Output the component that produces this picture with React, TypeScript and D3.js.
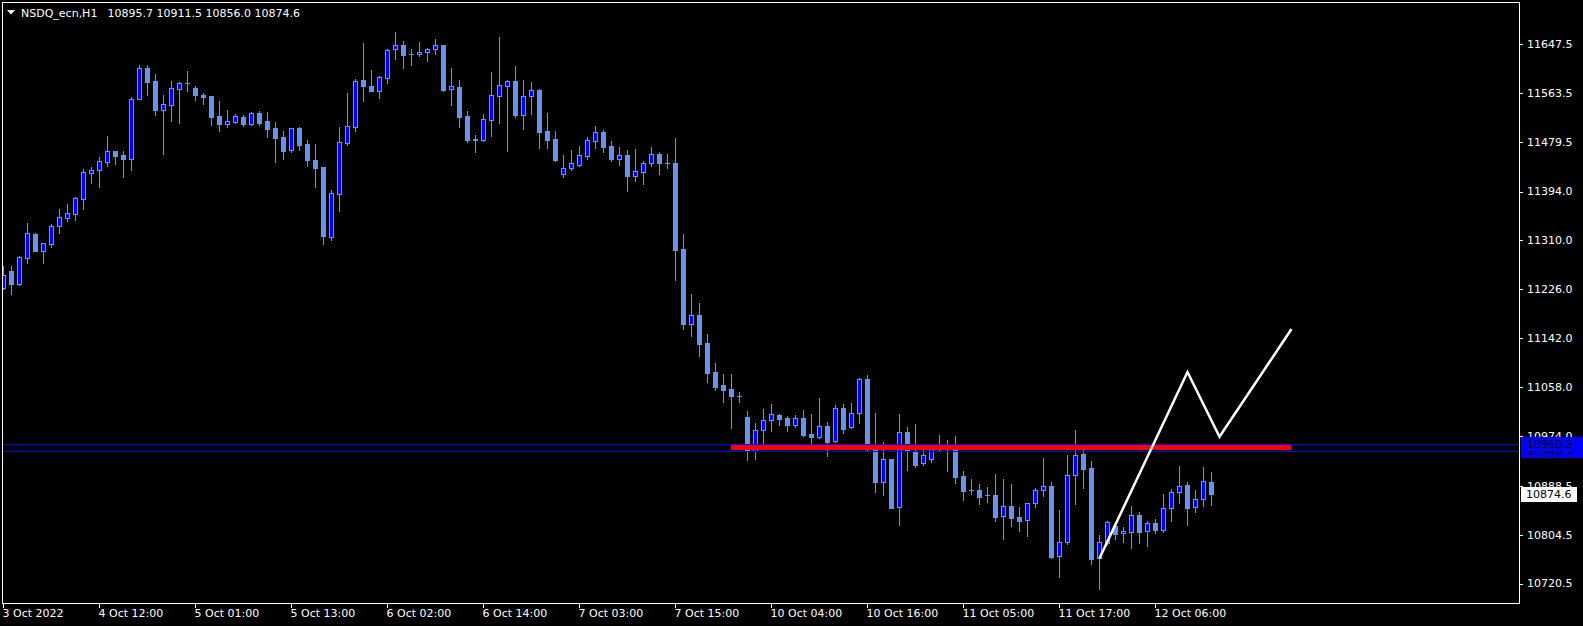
import React from 'react';
import * as d3 from 'd3';

const W = 1583;
const H = 626;

// OHLC hourly bars, NSDQ_ecn H1 (3 Oct 2022 – 12 Oct 2022)
const opens = [
  11228.8, 11257.5, 11235.1, 11280.4, 11321.0, 11292.4, 11304.4, 11335.4, 11349.1, 11356.0,
  11381.8, 11425.3, 11430.4, 11445.3, 11463.1, 11456.2, 11450.5, 11553.6, 11606.3, 11583.9,
  11534.7, 11543.3, 11570.8, 11579.9, 11571.3, 11559.9, 11558.2, 11523.8, 11510.6, 11514.1,
  11521.5, 11509.5, 11528.9, 11515.2, 11503.2, 11487.7, 11465.9, 11503.2, 11475.7, 11448.2,
  11436.2, 11316.5, 11390.3, 11478.0, 11505.5, 11585.1, 11575.3, 11566.2, 11588.5, 11638.3,
  11645.8, 11629.8, 11629.8, 11633.2, 11638.3, 11645.8, 11570.8, 11573.6, 11523.8, 11484.3,
  11483.1, 11517.5, 11558.7, 11575.9, 11583.9, 11526.1, 11558.2, 11568.5, 11498.0, 11484.3,
  11424.7, 11435.0, 11440.2, 11455.6, 11481.4, 11495.7, 11472.2, 11450.5, 11456.8, 11421.3,
  11427.0, 11442.5, 11458.5, 11443.6, 11443.0, 11295.3, 11167.0, 11181.9, 11133.8, 11083.9,
  11061.6, 11054.7, 11043.3, 11006.6, 10948.7, 10983.7, 11000.9, 11010.0, 11004.9, 10993.4,
  11004.9, 10977.4, 10972.8, 10991.1, 10964.8, 11021.5, 10988.8, 11012.9, 11071.9, 10959.1,
  10895.5, 10934.4, 10851.4, 10980.3, 10948.7, 10927.0, 10935.0, 10951.0, 10957.9, 10957.9,
  10905.2, 10881.2, 10881.2, 10872.0, 10872.6, 10837.1, 10853.7, 10835.3, 10829.0, 10858.3,
  10880.6, 10888.0, 10767.2, 10791.2, 10906.4, 10943.0, 10919.0, 10763.8, 10789.5, 10819.9,
  10806.7, 10809.6, 10838.2, 10810.1, 10823.9, 10813.0, 10849.7, 10877.2, 10889.2, 10851.4,
  10865.1, 10895.7,
];
const highs = [
  11266.1, 11266.1, 11282.7, 11339.9, 11322.8, 11305.0, 11337.6, 11364.0, 11372.6, 11385.2,
  11432.2, 11436.2, 11453.3, 11489.4, 11463.1, 11463.1, 11555.9, 11610.9, 11610.9, 11596.0,
  11559.9, 11583.9, 11581.6, 11601.1, 11575.3, 11563.3, 11558.2, 11549.6, 11534.1, 11527.2,
  11524.9, 11530.1, 11532.4, 11530.7, 11512.9, 11498.0, 11502.6, 11504.9, 11482.6, 11475.7,
  11436.2, 11396.1, 11504.9, 11563.3, 11586.8, 11649.2, 11602.8, 11592.5, 11638.9, 11668.1,
  11652.7, 11638.9, 11650.9, 11640.6, 11656.1, 11645.8, 11606.3, 11585.6, 11532.4, 11491.1,
  11527.2, 11599.4, 11659.5, 11585.6, 11609.7, 11585.6, 11582.2, 11570.2, 11528.9, 11498.0,
  11456.8, 11464.8, 11472.2, 11487.7, 11506.6, 11499.7, 11480.8, 11470.5, 11465.4, 11467.1,
  11446.5, 11470.5, 11461.9, 11458.5, 11486.0, 11321.0, 11217.9, 11202.5, 11149.2, 11099.4,
  11080.5, 11080.5, 11049.6, 11016.9, 10996.3, 11020.3, 11028.9, 11011.8, 11008.3, 11010.0,
  11019.2, 11011.8, 11039.2, 10998.0, 11027.2, 11028.9, 11030.7, 11073.6, 11078.8, 11013.5,
  10963.6, 10934.4, 11011.8, 10989.4, 10994.6, 10949.9, 10956.2, 10975.7, 10967.1, 10974.0,
  10914.4, 10900.1, 10891.5, 10886.3, 10908.7, 10900.1, 10891.5, 10852.0, 10858.3, 10884.0,
  10936.2, 10895.5, 10846.8, 10941.3, 10984.3, 10953.3, 10931.0, 10803.8, 10827.9, 10821.6,
  10817.6, 10853.7, 10843.4, 10827.9, 10831.3, 10874.3, 10882.9, 10922.4, 10894.9, 10880.6,
  10920.1, 10911.5,
];
const lows = [
  11227.1, 11217.9, 11233.4, 11271.8, 11291.8, 11271.8, 11299.3, 11323.3, 11344.0, 11345.1,
  11364.0, 11408.7, 11402.4, 11438.5, 11441.9, 11419.6, 11431.6, 11553.6, 11559.9, 11525.5,
  11459.1, 11515.8, 11512.3, 11566.8, 11551.3, 11545.0, 11508.3, 11498.6, 11505.5, 11512.3,
  11507.2, 11508.9, 11508.9, 11488.3, 11445.3, 11450.5, 11462.5, 11465.9, 11438.5, 11402.4,
  11304.4, 11311.3, 11361.1, 11474.5, 11498.6, 11550.1, 11567.3, 11555.3, 11581.1, 11622.3,
  11606.8, 11612.0, 11627.5, 11618.9, 11630.9, 11566.8, 11543.3, 11505.5, 11479.7, 11462.5,
  11481.4, 11489.4, 11511.8, 11464.2, 11522.6, 11501.4, 11527.2, 11469.4, 11469.4, 11446.5,
  11419.6, 11431.0, 11437.9, 11450.5, 11469.4, 11462.5, 11447.0, 11440.2, 11395.5, 11412.7,
  11407.5, 11438.5, 11424.7, 11435.0, 11242.0, 11158.4, 11146.4, 11112.0, 11067.3, 11053.6,
  11032.9, 10988.3, 11032.9, 10933.3, 10935.0, 10961.3, 10983.1, 10993.4, 10983.1, 10990.0,
  10974.0, 10960.8, 10971.1, 10940.2, 10963.1, 10979.7, 10988.3, 10996.3, 10949.3, 10877.7,
  10873.1, 10850.8, 10821.6, 10915.5, 10921.3, 10924.7, 10929.3, 10949.9, 10914.4, 10893.8,
  10864.6, 10874.3, 10857.7, 10860.5, 10827.9, 10797.5, 10819.9, 10811.3, 10802.7, 10852.5,
  10871.4, 10764.9, 10732.3, 10787.8, 10857.7, 10885.2, 10754.6, 10711.6, 10789.0, 10797.0,
  10791.8, 10782.1, 10790.7, 10785.5, 10807.9, 10809.6, 10828.5, 10858.8, 10821.6, 10843.9,
  10854.2, 10856.0,
];
const closes = [
  11250.6, 11235.1, 11280.9, 11322.2, 11291.8, 11305.0, 11334.2, 11349.7, 11356.5, 11382.3,
  11427.0, 11430.4, 11445.9, 11463.1, 11455.6, 11450.5, 11552.4, 11605.7, 11582.2, 11534.1,
  11543.8, 11571.3, 11579.9, 11579.9, 11559.9, 11557.0, 11522.1, 11510.0, 11514.6, 11523.2,
  11510.0, 11528.4, 11512.3, 11502.0, 11486.6, 11464.2, 11502.6, 11474.5, 11448.8, 11435.0,
  11318.2, 11390.9, 11478.5, 11506.0, 11583.4, 11575.9, 11567.3, 11590.2, 11636.6, 11645.2,
  11629.2, 11629.8, 11633.2, 11638.3, 11645.2, 11568.5, 11575.3, 11522.6, 11483.1, 11482.0,
  11518.1, 11559.3, 11576.5, 11583.9, 11525.5, 11558.2, 11567.9, 11496.9, 11483.1, 11448.2,
  11433.9, 11442.5, 11456.2, 11482.0, 11495.7, 11471.1, 11449.9, 11456.2, 11421.3, 11428.7,
  11442.5, 11457.9, 11443.6, 11443.6, 11294.1, 11167.0, 11181.9, 11132.6, 11082.8, 11058.7,
  11053.0, 11043.3, 11043.3, 10948.7, 10983.7, 11000.9, 11011.2, 11003.7, 10993.4, 11004.3,
  10976.2, 10972.8, 10990.6, 10964.2, 11021.5, 10986.6, 11012.9, 11071.3, 10959.6, 10895.5,
  10933.9, 10850.8, 10980.3, 10948.7, 10924.1, 10940.7, 10951.0, 10958.5, 10957.9, 10904.1,
  10879.4, 10881.2, 10869.7, 10872.0, 10835.3, 10853.7, 10833.6, 10828.5, 10858.3, 10881.2,
  10887.5, 10766.6, 10791.2, 10906.4, 10940.7, 10917.8, 10762.6, 10791.2, 10825.6, 10806.1,
  10810.1, 10837.6, 10809.6, 10823.9, 10813.0, 10849.7, 10877.2, 10887.5, 10850.8, 10865.1,
  10896.1, 10874.6,
];

const priceTicks = [11647.5, 11563.5, 11479.5, 11394.0, 11310.0, 11226.0, 11142.0, 11058.0, 10974.0, 10888.5, 10804.5, 10720.5];
const timeLabels = [
  '3 Oct 2022', '4 Oct 12:00', '5 Oct 01:00', '5 Oct 13:00', '6 Oct 02:00', '6 Oct 14:00',
  '7 Oct 03:00', '7 Oct 15:00', '10 Oct 04:00', '10 Oct 16:00', '11 Oct 05:00', '11 Oct 17:00', '12 Oct 06:00',
];
const timeLabelBars = [0, 12, 24, 36, 48, 60, 72, 84, 96, 108, 120, 132, 144];

const symbolTitle = 'NSDQ_ecn,H1';
const lastOHLC = [10895.7, 10911.5, 10856.0, 10874.6];

const hLinePrices = [10948.1, 10960.2];
const currentPrice = 10874.6;
const redLevel = { fromBar: 90.94, toBar: 160.94, price: 10954.3 };
const zigzagBars = [137, 148, 152, 161];
const zigzagPrices = [10763.8, 11083.9, 10972.7, 11157.8];

const FONT = '"DejaVu Sans", Verdana, sans-serif';
const BG = '#000000';
const WICK = '#6495ED';
const BEAR = '#6495ED';
const BULL = '#0000FF';

export default function App() {
  const left = 2, top = 2, right = 1519, bottom = 603;

  const y = d3.scaleLinear().domain([10720.5, 11647.5]).range([583.5, 44]);
  const x = d3.scaleLinear().domain([0, 1]).range([3.5, 11.5]);

  const bars = d3.range(opens.length).map((i) => ({
    i, o: opens[i], h: highs[i], l: lows[i], c: closes[i],
  }));

  const zigzag = d3.line<number>()
    .x((_, k) => x(zigzagBars[k]))
    .y((p) => y(p));

  const py = (p: number) => Math.round(y(p));

  return (
    <svg
      width={W}
      height={H}
      style={{ position: 'absolute', left: 0, top: 0, background: BG, display: 'block' }}
      fontFamily={FONT}
    >
      <rect x={0} y={0} width={W} height={H} fill={BG} />
      <defs>
        <clipPath id="plot">
          <rect x={left + 1} y={top + 1} width={right - left - 1} height={bottom - top - 1} />
        </clipPath>
      </defs>

      <g clipPath="url(#plot)">
        {bars.map((b) => {
          const cx = x(b.i);
          const yo = py(b.o), yc = py(b.c);
          const yTop = Math.min(yo, yc), yBot = Math.max(yo, yc);
          const bull = b.c > b.o;
          return (
            <g key={b.i} shapeRendering="crispEdges">
              <line x1={cx} x2={cx} y1={py(b.h)} y2={py(b.l) + 1} stroke={WICK} strokeWidth={1} />
              {yBot - yTop < 1 ? (
                <line x1={cx - 2.5} x2={cx + 2.5} y1={yTop + 0.5} y2={yTop + 0.5} stroke={WICK} strokeWidth={1} />
              ) : bull ? (
                <rect x={cx - 2} y={yTop + 0.5} width={4} height={Math.max(yBot - yTop, 1)} fill={BULL} stroke={WICK} strokeWidth={1} />
              ) : (
                <rect x={cx - 2.5} y={yTop} width={5} height={yBot - yTop + 1} fill={BEAR} />
              )}
            </g>
          );
        })}

        {hLinePrices.map((p) => (
          <line key={p} x1={left} x2={right} y1={py(p) + 0.5} y2={py(p) + 0.5} stroke="#0000FF" strokeWidth={1} shapeRendering="crispEdges" />
        ))}

        <line
          x1={x(redLevel.fromBar)} x2={x(redLevel.toBar)}
          y1={y(redLevel.price)} y2={y(redLevel.price)}
          stroke="#FF0000" strokeWidth={5} shapeRendering="crispEdges"
        />

        <path d={zigzag(zigzagPrices) || ''} fill="none" stroke="#FFFFFF" strokeWidth={2.5} strokeLinejoin="miter" />
      </g>

      {/* frame */}
      <rect x={left + 0.5} y={top + 0.5} width={right - left} height={bottom - top} fill="none" stroke="#FFFFFF" strokeWidth={1} shapeRendering="crispEdges" />

      {/* title */}
      <polygon points="7,10 15,10 11,14.5" fill="#FFFFFF" />
      <text x={21} y={17} fill="#FFFFFF" fontSize={11}>{symbolTitle}</text>
      <text x={107.5} y={17} fill="#FFFFFF" fontSize={11}>{lastOHLC.map((v) => v.toFixed(1)).join(' ')}</text>

      {/* price axis */}
      {priceTicks.map((t) => (
        <g key={t}>
          <line x1={right} x2={right + 4} y1={py(t) + 0.5} y2={py(t) + 0.5} stroke="#FFFFFF" strokeWidth={1} shapeRendering="crispEdges" />
          <text x={1527} y={y(t)} dy="0.36em" fill="#FFFFFF" fontSize={11}>{t.toFixed(1)}</text>
        </g>
      ))}

      {hLinePrices.map((p) => (
        <g key={'lbl' + p}>
          <rect x={1521} y={py(p) - 7} width={62} height={14} fill="#0000FF" />
          <text x={1527} y={y(p)} dy="0.36em" fill="#000000" fontSize={11}>{p.toFixed(1)}</text>
        </g>
      ))}

      <rect x={1521} y={py(currentPrice) - 7} width={56} height={15} fill="#FFFFFF" />
      <text x={1526} y={y(currentPrice)} dy="0.36em" fill="#000000" fontSize={11}>{currentPrice.toFixed(1)}</text>

      {/* time axis */}
      {timeLabelBars.map((b, k) => (
        <g key={b}>
          <line x1={x(b)} x2={x(b)} y1={bottom} y2={bottom + 5} stroke="#FFFFFF" strokeWidth={1} shapeRendering="crispEdges" />
          <text x={x(b) - 1} y={617} fill="#FFFFFF" fontSize={11}>{timeLabels[k]}</text>
        </g>
      ))}
    </svg>
  );
}
